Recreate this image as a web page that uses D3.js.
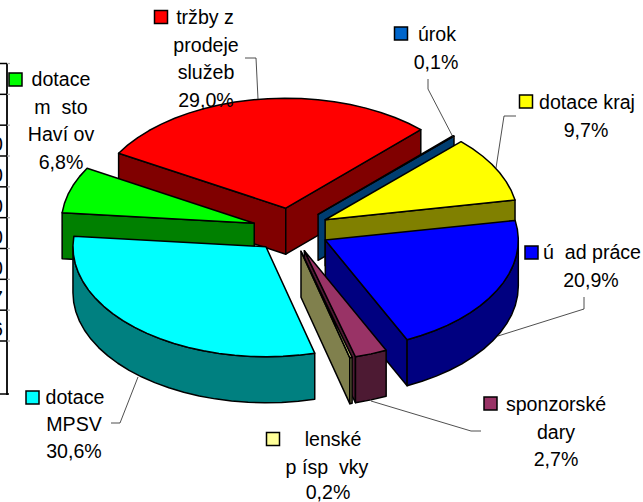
<!DOCTYPE html>
<html>
<head>
<meta charset="utf-8">
<script src="https://cdn.jsdelivr.net/npm/d3@7"></script>
<style>
  html, body { margin: 0; padding: 0; background: #fff; }
  text { font-family: "Liberation Sans", Arial, sans-serif; font-size: 19.6px; fill: #000; white-space: pre; }
</style>
</head>
<body>
<svg id="canvas"></svg>
<script>
const names = ["úrok", "dotace kraj", "ú ad práce", "sponzorské dary", "lenské p ísp vky", "dotace MPSV", "dotace m sto Haví ov", "tržby z prodeje služeb"];
const shares = [0.1, 9.7, 20.9, 2.7, 0.2, 30.6, 6.8, 29.0];
const shareLabels = ["0,1%", "9,7%", "20,9%", "2,7%", "0,2%", "30,6%", "6,8%", "29,0%"];
const topColors = ["#0066cc", "#ffff00", "#0000ff", "#993366", "#ffff99", "#00ffff", "#00ff00", "#ff0000"];
const wallColors = ["#003d70", "#808000", "#000080", "#4d1a33", "#80804d", "#008080", "#008000", "#800000"];
// draw order, back slices first
const drawOrder = [7, 6, 5, 0, 1, 2, 3, 4];

// table cut off by the left edge of the picture, only last digits show
const tableDigits = ["", "", "0", "0", "0", "0", "0", "7", "6"];

const width = 643;
const height = 502;
const svg = d3.select("#canvas").attr("width", width).attr("height", height);
svg.style("display", "block");

// pie geometry
const cx = 291, cy = 230;
const rx = 193, ry = 110;
const depth = 46;
const explode = 0.2;
const startDeg = 44.4;

const xScale = d3.scaleLinear().domain([-1, 1]).range([cx - rx, cx + rx]);
const yScale = d3.scaleLinear().domain([-1, 1]).range([cy - ry, cy + ry]);

const pie = d3.pie().sort(null)
    .startAngle(startDeg * Math.PI / 180)
    .endAngle((startDeg + 360) * Math.PI / 180);
const arcs = pie(shares);

// point on the rim (r=1) or apex (r=0) of a slice, after pulling it out
function pt(d, a, r, down) {
    const mid = (d.startAngle + d.endAngle) / 2;
    const ux = r * Math.sin(a) + explode * Math.sin(mid);
    const uy = -r * Math.cos(a) - explode * Math.cos(mid);
    return [xScale(ux), yScale(uy) + (down ? depth : 0)];
}

function rim(a0, a1) {
    const n = Math.max(1, Math.ceil(Math.abs(a1 - a0) / (5 * Math.PI / 180)));
    return d3.range(n + 1).map(i => a0 + (a1 - a0) * i / n);
}

const line = d3.line();

drawOrder.forEach(i => {
    const d = arcs[i];
    const g = svg.append("g");
    const wall = pts => g.append("path")
        .attr("d", line(pts) + "Z")
        .attr("fill", wallColors[i])
        .attr("stroke", "#000")
        .attr("stroke-width", 1.5)
        .attr("stroke-linejoin", "round");

    // cut faces, only the ones turned to the viewer
    if (Math.sin(d.startAngle) < 0) wall([pt(d, 0, 0), pt(d, d.startAngle, 1), pt(d, d.startAngle, 1, true), pt(d, 0, 0, true)]);
    if (Math.sin(d.endAngle) > 0) wall([pt(d, 0, 0), pt(d, d.endAngle, 1), pt(d, d.endAngle, 1, true), pt(d, 0, 0, true)]);

    // outer wall, only the part facing the viewer
    const from = Math.max(d.startAngle, Math.PI / 2);
    const to = Math.min(d.endAngle, 3 * Math.PI / 2);
    if (to > from) {
        const as = rim(from, to);
        wall(as.map(a => pt(d, a, 1)).concat(as.slice().reverse().map(a => pt(d, a, 1, true))));
    }

    // top face
    const top = [pt(d, 0, 0)].concat(rim(d.startAngle, d.endAngle).map(a => pt(d, a, 1)));
    g.append("path")
        .attr("d", line(top) + "Z")
        .attr("fill", topColors[i])
        .attr("stroke", "#000")
        .attr("stroke-width", 1.5)
        .attr("stroke-linejoin", "round");
});

// leader lines
const leaders = [
    [[428, 79], [428, 89], [454, 139]],
    [[516, 116], [504, 116], [496, 168]],
    [[584, 297], [584, 309], [498, 336]],
    [[481, 431], [471, 431], [371, 401]],
    [[111, 423], [120, 423], [138, 377]],
    [[245, 58], [256, 58], [258, 99]]
];
svg.selectAll(".leader")
    .data(leaders)
    .join("path")
    .attr("class", "leader")
    .attr("d", d => line(d))
    .attr("fill", "none")
    .attr("stroke", "#222")
    .attr("stroke-width", 0.8);

// labels: key box position, then text lines
const labels = [
    { i: 0, box: [394.5, 27], lines: [["úrok", 437, 41], [shareLabels[0], 436, 69]] },
    { i: 1, box: [519.5, 95], lines: [["dotace kraj", 587, 109], [shareLabels[1], 586, 137]] },
    { i: 2, box: [525, 246], lines: [["ú  ad práce", 592, 259], [shareLabels[2], 591, 287]] },
    { i: 3, box: [484, 397], lines: [["sponzorské", 556, 411], ["dary", 556, 439], [shareLabels[3], 556, 466]] },
    { i: 4, box: [266.5, 432.5], lines: [["lenské", 333, 446], ["p ísp  vky", 327, 474], [shareLabels[4], 328, 498.5]] },
    { i: 5, box: [26, 391], lines: [["dotace", 75, 404], ["MPSV", 74, 431], [shareLabels[5], 74, 458]] },
    { i: 6, box: [9, 73], lines: [["dotace", 61, 86], ["m  sto", 61, 114], ["Haví ov", 61, 141], [shareLabels[6], 61, 169]] },
    { i: 7, box: [154.5, 10.5], lines: [["tržby z", 205, 24], ["prodeje", 206, 52], ["služeb", 206, 79], [shareLabels[7], 206, 107]] }
];
labels.forEach(l => {
    svg.append("rect")
        .attr("x", l.box[0]).attr("y", l.box[1])
        .attr("width", 13).attr("height", 13)
        .attr("fill", topColors[l.i])
        .attr("stroke", "#000")
        .attr("stroke-width", 1.5);
    l.lines.forEach(t => {
        svg.append("text")
            .attr("x", t[1]).attr("y", t[2])
            .attr("text-anchor", "middle")
            .text(t[0]);
    });
});

// leftover table at the left edge
const rowY = d3.scaleLinear().domain([0, 9]).range([63.5, 341]);
const table = svg.append("g");
table.append("line")
    .attr("x1", 7).attr("x2", 7).attr("y1", 63).attr("y2", 395)
    .attr("stroke", "#000").attr("stroke-width", 1.8);
d3.range(10).forEach(k => {
    table.append("line")
        .attr("x1", 7).attr("x2", 10).attr("y1", rowY(k)).attr("y2", rowY(k))
        .attr("stroke", "#aaa").attr("stroke-width", 1.2);
    table.append("line")
        .attr("x1", 0).attr("x2", 7).attr("y1", rowY(k)).attr("y2", rowY(k))
        .attr("stroke", "#000").attr("stroke-width", 1.5);
});
table.append("line")
    .attr("x1", 0).attr("x2", 9).attr("y1", 394).attr("y2", 394)
    .attr("stroke", "#000").attr("stroke-width", 1.5);
table.selectAll("text")
    .data(tableDigits)
    .join("text")
    .attr("x", 3)
    .attr("y", (d, k) => rowY(k) + 26)
    .attr("text-anchor", "end")
    .text(d => d);
</script>
</body>
</html>
